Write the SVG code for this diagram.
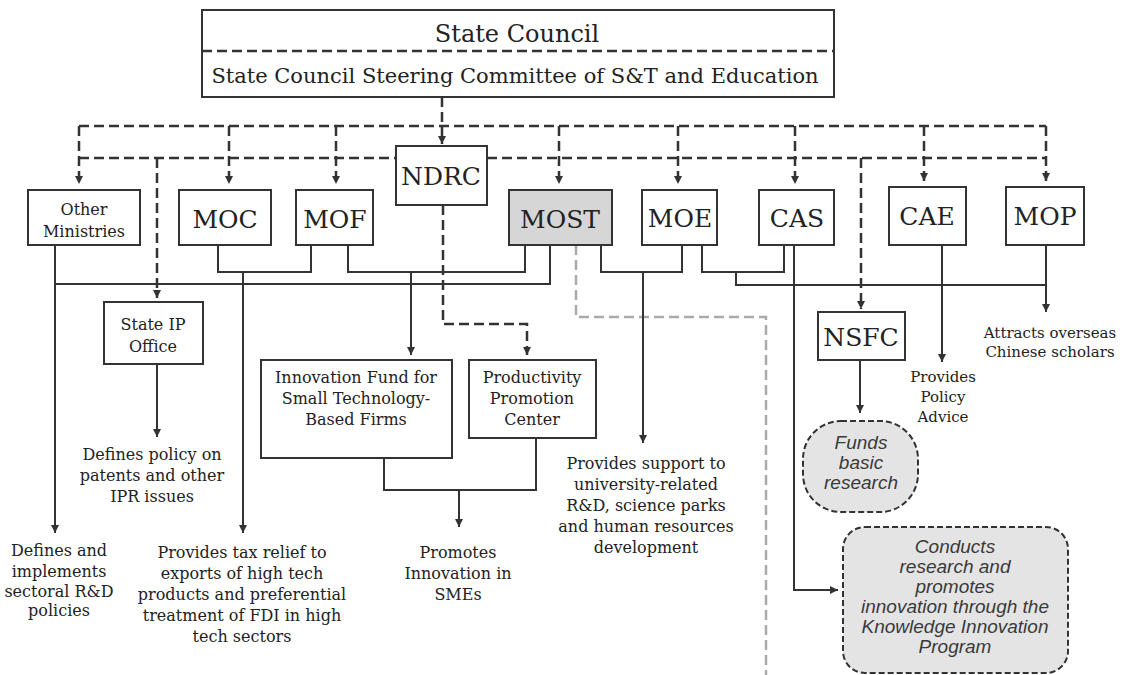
<svg xmlns="http://www.w3.org/2000/svg" width="1122" height="675" viewBox="0 0 1122 675">
<defs>
<style>
.box{fill:#fff;stroke:#333;stroke-width:2}
.gray{fill:#d6d6d6}
.sol{fill:none;stroke:#333;stroke-width:2}
.dash{fill:none;stroke:#333;stroke-width:2.5;stroke-dasharray:10 5}
.gdash{fill:none;stroke:#aaa;stroke-width:2.5;stroke-dasharray:10 5}
.bub{fill:#e4e4e4;stroke:#333;stroke-width:2;stroke-dasharray:6 3}
.t{font-family:"DejaVu Serif","Liberation Serif",serif;fill:#222;text-anchor:middle}
.big{font-size:24px}
.sm{font-size:16px}
.xs{font-size:15px}
.it{font-family:"Liberation Sans",Arial,sans-serif;font-style:italic;fill:#3a3a3a;text-anchor:middle;font-size:19px}
</style>
<marker id="ah" viewBox="0 0 10 10" refX="10" refY="5" markerWidth="8" markerHeight="8" markerUnits="userSpaceOnUse" orient="auto"><path d="M0,0 L10,5 L0,10 z" fill="#333"/></marker>
</defs>
<rect width="1122" height="675" fill="#fff"/>

<g id="connectors">
<path class="dash" d="M442,97 V144" marker-end="url(#ah)"/>
<path class="dash" d="M79,126 H1046"/>
<path class="dash" d="M79,126 V184" marker-end="url(#ah)"/>
<path class="dash" d="M229,126 V184" marker-end="url(#ah)"/>
<path class="dash" d="M336,126 V184" marker-end="url(#ah)"/>
<path class="dash" d="M559,126 V184" marker-end="url(#ah)"/>
<path class="dash" d="M678,126 V184" marker-end="url(#ah)"/>
<path class="dash" d="M795,126 V184" marker-end="url(#ah)"/>
<path class="dash" d="M924,126 V181" marker-end="url(#ah)"/>
<path class="dash" d="M1046,126 V181" marker-end="url(#ah)"/>
<path class="dash" d="M79,158 H396"/>
<path class="dash" d="M487,158 H1046"/>
<path class="dash" d="M157,158 V298" marker-end="url(#ah)"/>
<path class="dash" d="M861,158 V309" marker-end="url(#ah)"/>
<path class="dash" d="M443,205 V324 H527 V355" marker-end="url(#ah)"/>
<path class="gdash" d="M576,245 V317 H766 V675"/>
<path class="sol" d="M55,245 V533" marker-end="url(#ah)"/>
<path class="sol" d="M55,284 H550 V245"/>
<path class="sol" d="M218,245 V272 H311 V245"/>
<path class="sol" d="M243,272 V533" marker-end="url(#ah)"/>
<path class="sol" d="M348,245 V272 H525 V245"/>
<path class="sol" d="M411,272 V355" marker-end="url(#ah)"/>
<path class="sol" d="M601,245 V272 H682 V245"/>
<path class="sol" d="M643,272 V443" marker-end="url(#ah)"/>
<path class="sol" d="M702,245 V272 H784 V245"/>
<path class="sol" d="M736,272 V285 H1046"/>
<path class="sol" d="M1046,245 V312" marker-end="url(#ah)"/>
<path class="sol" d="M942,245 V362" marker-end="url(#ah)"/>
<path class="sol" d="M794,245 V590 H838" marker-end="url(#ah)"/>
<path class="sol" d="M860,360 V413" marker-end="url(#ah)"/>
<path class="sol" d="M157,364 V437" marker-end="url(#ah)"/>
<path class="sol" d="M384,458 V490 H536 V438"/>
<path class="sol" d="M459,490 V527" marker-end="url(#ah)"/>
</g>

<g id="state-council">
<rect class="box" x="202" y="10" width="632" height="87"/>
<line class="dash" x1="202" y1="51" x2="834" y2="51"/>
<text class="t big" x="517" y="42">State Council</text>
<text class="t" x="515" y="83" font-size="21">State Council Steering Committee of S&amp;T and Education</text>
</g>
<g id="ndrc"><rect class="box" x="396" y="146" width="91" height="59"/><text class="t" x="441" y="185" font-size="25">NDRC</text></g>
<g id="other-ministries"><rect class="box" x="28" y="190" width="112" height="55"/><text class="t sm" x="84" y="215">Other</text><text class="t sm" x="84" y="237">Ministries</text></g>
<g id="moc"><rect class="box" x="179" y="190" width="92" height="55"/><text class="t" x="225" y="228" font-size="25">MOC</text></g>
<g id="mof"><rect class="box" x="296" y="190" width="77" height="55"/><text class="t" x="335" y="228" font-size="25">MOF</text></g>
<g id="most"><rect class="box gray" x="509" y="190" width="103" height="55"/><text class="t" x="560" y="228" font-size="25">MOST</text></g>
<g id="moe"><rect class="box" x="642" y="190" width="75" height="55"/><text class="t" x="680" y="227" font-size="25">MOE</text></g>
<g id="cas"><rect class="box" x="759" y="190" width="75" height="55"/><text class="t" x="797" y="227" font-size="25">CAS</text></g>
<g id="cae"><rect class="box" x="889" y="187" width="77" height="58"/><text class="t" x="927" y="225" font-size="25">CAE</text></g>
<g id="mop"><rect class="box" x="1006" y="187" width="78" height="58"/><text class="t" x="1045" y="225" font-size="25">MOP</text></g>
<g id="state-ip"><rect class="box" x="104" y="302" width="99" height="62"/><text class="t sm" x="153" y="330">State IP</text><text class="t sm" x="153" y="352">Office</text></g>
<g id="innovation-fund"><rect class="box" x="261" y="360" width="191" height="98"/><text class="t sm" x="356" y="383">Innovation Fund for</text><text class="t sm" x="356" y="404">Small Technology-</text><text class="t sm" x="356" y="425">Based Firms</text></g>
<g id="productivity"><rect class="box" x="469" y="360" width="127" height="78"/><text class="t sm" x="532" y="383">Productivity</text><text class="t sm" x="532" y="404">Promotion</text><text class="t sm" x="532" y="425">Center</text></g>
<g id="nsfc"><rect class="box" x="818" y="312" width="87" height="48"/><text class="t" x="861" y="346" font-size="25">NSFC</text></g>
<g id="funds"><rect class="bub" x="803" y="421" width="115" height="91" rx="38"/><text class="it" x="861" y="449">Funds</text><text class="it" x="861" y="469">basic</text><text class="it" x="861" y="489">research</text></g>
<g id="conducts"><rect class="bub" x="843" y="527" width="225" height="146" rx="22"/>
<text class="it" x="955" y="553">Conducts</text><text class="it" x="955" y="573">research and</text><text class="it" x="955" y="593">promotes</text><text class="it" x="955" y="613">innovation through the</text><text class="it" x="955" y="633">Knowledge Innovation</text><text class="it" x="955" y="653">Program</text></g>

<g id="labels">
<text class="t sm" x="152" y="460">Defines policy on</text>
<text class="t sm" x="152" y="481">patents and other</text>
<text class="t sm" x="152" y="502">IPR issues</text>
<text class="t sm" x="59" y="556">Defines and</text>
<text class="t sm" x="59" y="577">implements</text>
<text class="t sm" x="59" y="597">sectoral R&amp;D</text>
<text class="t sm" x="59" y="616">policies</text>
<text class="t sm" x="242" y="558">Provides tax relief to</text>
<text class="t sm" x="242" y="579">exports of high tech</text>
<text class="t sm" x="242" y="600">products and preferential</text>
<text class="t sm" x="242" y="621">treatment of FDI in high</text>
<text class="t sm" x="242" y="642">tech sectors</text>
<text class="t sm" x="458" y="558">Promotes</text>
<text class="t sm" x="458" y="579">Innovation in</text>
<text class="t sm" x="458" y="600">SMEs</text>
<text class="t sm" x="646" y="469">Provides support to</text>
<text class="t sm" x="646" y="490">university-related</text>
<text class="t sm" x="646" y="511">R&amp;D, science parks</text>
<text class="t sm" x="646" y="532">and human resources</text>
<text class="t sm" x="646" y="553">development</text>
<text class="t xs" x="943" y="382">Provides</text>
<text class="t xs" x="943" y="402">Policy</text>
<text class="t xs" x="943" y="422">Advice</text>
<text class="t xs" x="1050" y="338">Attracts overseas</text>
<text class="t xs" x="1050" y="357">Chinese scholars</text>
</g>
</svg>
